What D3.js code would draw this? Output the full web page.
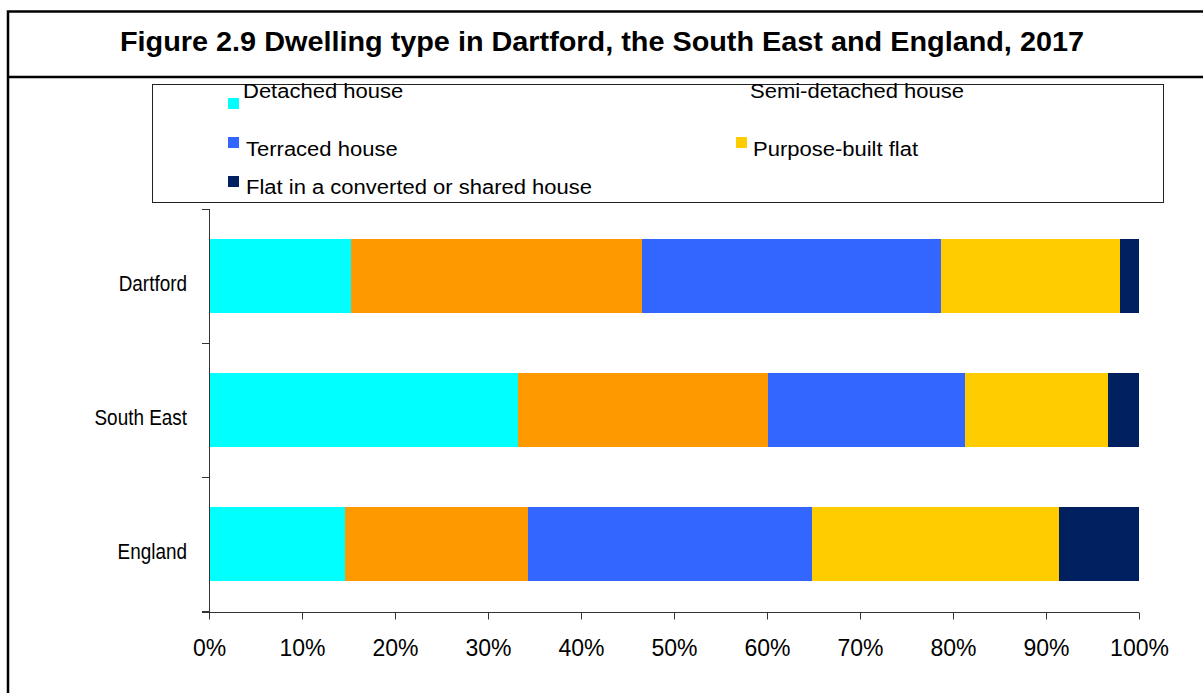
<!DOCTYPE html>
<html><head><meta charset="utf-8">
<script src="https://cdn.jsdelivr.net/npm/d3@7"></script>
<style>
html,body{margin:0;padding:0;background:#fff;}
svg{display:block;font-family:Arial,"Liberation Sans",sans-serif;}
</style></head>
<body>
<svg id="chart" width="1203" height="693"></svg>
<script>
const categories = ["Dartford", "South East", "England"];
const seriesNames = ["Detached house", "Semi-detached house", "Terraced house", "Purpose-built flat", "Flat in a converted or shared house"];
const detached = [15.3, 33.2, 14.6];
const semiDetached = [31.3, 26.9, 19.7];
const terraced = [32.1, 21.2, 30.5];
const purposeBuilt = [19.3, 15.4, 26.6];
const converted = [2.0, 3.3, 8.6];
const seriesColors = ["#00FFFF", "#FF9900", "#3366FF", "#FFCC00", "#002060"];
const xTicks = [0, 10, 20, 30, 40, 50, 60, 70, 80, 90, 100];
const title = "Figure 2.9 Dwelling type in Dartford, the South East and England, 2017";

const svg = d3.select("#chart");

// outer frame and title band
svg.append("rect").attr("x", 8).attr("y", 11.5).attr("width", 1210).attr("height", 700)
  .attr("fill", "none").attr("stroke", "#000").attr("stroke-width", 2.5);
svg.append("line").attr("x1", 8).attr("x2", 1210).attr("y1", 77).attr("y2", 77)
  .attr("stroke", "#000").attr("stroke-width", 2.5);
svg.append("g").attr("transform", "translate(602,51) scale(1,1.08)")
  .append("text").attr("x", 0).attr("y", 0).attr("text-anchor", "middle")
  .attr("font-size", 25).attr("font-weight", "bold").attr("fill", "#000")
  .attr("textLength", 964).attr("lengthAdjust", "spacingAndGlyphs")
  .text(title);

// data table
const table = categories.map((c, i) => ({
  category: c,
  "Detached house": detached[i],
  "Semi-detached house": semiDetached[i],
  "Terraced house": terraced[i],
  "Purpose-built flat": purposeBuilt[i],
  "Flat in a converted or shared house": converted[i]
}));
const stacked = d3.stack().keys(seriesNames)(table);

const x = d3.scaleLinear().domain([0, 100]).range([209, 1139]);
const y = d3.scaleBand().domain(categories).range([209, 611]).paddingInner(0.448).paddingOuter(0.224);
const color = d3.scaleOrdinal().domain(seriesNames).range(seriesColors);

// bars
svg.append("g").selectAll("g").data(stacked).join("g")
  .attr("fill", d => color(d.key))
  .selectAll("rect").data(d => d).join("rect")
  .attr("x", d => x(d[0]))
  .attr("width", d => x(d[1]) - x(d[0]))
  .attr("y", d => y(d.data.category))
  .attr("height", y.bandwidth())
  .attr("shape-rendering", "crispEdges");

// y axis
const yAxisG = svg.append("g");
yAxisG.append("line").attr("x1", 209.5).attr("x2", 209.5).attr("y1", 209).attr("y2", 612)
  .attr("stroke", "#333").attr("stroke-width", 1);
const bandEdges = [0, 1, 2, 3].map(i => 209 + i * y.step());
yAxisG.selectAll("line.tk").data(bandEdges).join("line").attr("class", "tk")
  .attr("x1", 202).attr("x2", 209.5).attr("y1", d => Math.round(d) + 0.5).attr("y2", d => Math.round(d) + 0.5)
  .attr("stroke", "#333");
yAxisG.selectAll("g.lbl").data(categories).join("g").attr("class", "lbl")
  .attr("transform", d => `translate(187,${y(d) + y.bandwidth() / 2 + 15}) scale(0.86,1)`)
  .append("text").attr("text-anchor", "end").attr("font-size", 22).attr("fill", "#000")
  .text(d => d);

// x axis
const xAxis = d3.axisBottom(x).tickValues(xTicks).tickSize(7).tickFormat(d => d + "%");
const xg = svg.append("g").attr("transform", "translate(0,612.5)").call(xAxis);
xg.select(".domain").remove();
xg.append("line").attr("x1", 202).attr("x2", 1139).attr("y1", 0).attr("y2", 0).attr("stroke", "#333");
xg.selectAll(".tick line").attr("stroke", "#333");
xg.selectAll(".tick text").attr("font-size", 23).attr("font-family", "Arial, 'Liberation Sans', sans-serif")
  .attr("fill", "#000").attr("dy", null).attr("y", 43.5);

// legend
const lg = svg.append("g");
lg.append("rect").attr("x", 152.5).attr("y", 84.5).attr("width", 1011).attr("height", 118)
  .attr("fill", "#fff").attr("stroke", "#222").attr("stroke-width", 1);
const legendItems = [
  {name: seriesNames[0], mx: 228, my: 98, tx: 243, ty: 98, marker: true},
  {name: seriesNames[1], mx: 735, my: 98, tx: 750, ty: 98, marker: false},
  {name: seriesNames[2], mx: 228, my: 137, tx: 246, ty: 156, marker: true},
  {name: seriesNames[3], mx: 736, my: 137, tx: 753, ty: 156, marker: true},
  {name: seriesNames[4], mx: 228, my: 176, tx: 246, ty: 194, marker: true}
];
const li = lg.selectAll("g.item").data(legendItems).join("g").attr("class", "item");
li.filter(d => d.marker).append("rect")
  .attr("x", d => d.mx).attr("y", d => d.my).attr("width", 11).attr("height", 11)
  .attr("fill", d => color(d.name));
li.append("g").attr("transform", d => `translate(${d.tx},${d.ty}) scale(1,0.88)`)
  .append("text").attr("x", 0).attr("y", 0)
  .attr("font-size", 22).attr("fill", "#000").text(d => d.name);
</script>
</body></html>
